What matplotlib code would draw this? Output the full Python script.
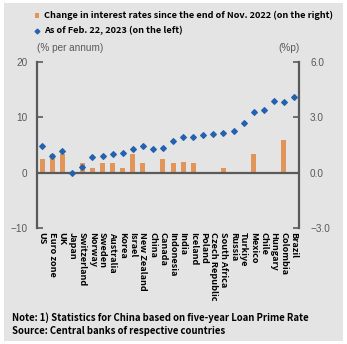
import matplotlib
matplotlib.use("Agg")
import matplotlib.pyplot as plt
from matplotlib.patches import Rectangle
from matplotlib.lines import Line2D

countries = ["US", "Euro zone", "UK", "Japan", "Switzerland", "Norway", "Sweden",
             "Australia", "Korea", "Israel", "New Zealand", "China", "Canada",
             "Indonesia", "India", "Iceland", "Poland", "Czech Republic",
             "South Africa", "Russia", "Turkiye", "Mexico", "Chile", "Hungary",
             "Colombia", "Brazil"]
# Policy rate as of Feb. 22, 2023 (%, left axis)
policy_rate = [4.75, 3.0, 4.0, -0.1, 1.0, 2.75, 3.0, 3.35, 3.5, 4.25, 4.75, 4.3,
               4.5, 5.75, 6.5, 6.5, 6.75, 7.0, 7.25, 7.5, 9.0, 11.0, 11.25, 13.0,
               12.75, 13.75]
# Change since end of Nov. 2022 (%p, right axis)
rate_change = [0.75, 1.0, 1.0, 0.0, 0.5, 0.25, 0.5, 0.5, 0.25, 1.0, 0.5, 0.0,
               0.75, 0.5, 0.6, 0.5, 0.0, 0.0, 0.25, 0.0, 0.0, 1.0, 0.0, 0.0,
               1.75, 0.0]
left_ticks = [-10, 0, 10, 20]
right_ticks = [-3.0, 0.0, 3.0, 6.0]

BG = "#e4e4e4"
BAR = "#e0955a"
DOT = "#2462b0"
AXC = "#5a5a5a"
TXT = "#595959"
BOLD_FONT = ["Noto Sans CJK KR", "DejaVu Sans"]
REG_FONT = ["Liberation Sans", "DejaVu Sans"]
FS_BOLD = 6.6
FS_NOTE = 6.9
FS_REG = 7.2

W, H = 347, 344
fig = plt.figure(figsize=(W / 100, H / 100), dpi=100)
fig.patch.set_facecolor("white")
fig.patches.append(Rectangle((4 / W, 3 / H), 339 / W, 338 / H,
                             transform=fig.transFigure, facecolor=BG,
                             edgecolor="none", zorder=-10))

ax = fig.add_axes([37 / W, (H - 228) / H, 262 / W, 166 / H])
ax.set_facecolor("none")
ax2 = ax.twinx()

x = list(range(len(countries)))
ax2.bar(x, rate_change, width=0.5, color=BAR, zorder=2)
ax.scatter(x, policy_rate, marker="D", s=8, color=DOT, zorder=4)
ax.set_zorder(ax2.get_zorder() + 1)

ax.set_xlim(-0.5, len(countries) - 0.5)
ax.set_ylim(-10, 20)
ax2.set_ylim(-3.0, 6.0)
ax.axhline(0, color=AXC, lw=1.6, zorder=3)

for a in (ax, ax2):
    for s in ("top", "bottom"):
        a.spines[s].set_visible(False)
ax2.spines["left"].set_visible(False)
ax.spines["right"].set_visible(False)
ax.spines["left"].set_color(AXC)
ax.spines["left"].set_linewidth(1.6)
ax2.spines["right"].set_color(AXC)
ax2.spines["right"].set_linewidth(1.6)

ax.set_yticks(left_ticks)
ax.set_yticklabels(["\u221210", "0", "10", "20"])
ax2.set_yticks(right_ticks)
ax2.set_yticklabels(["\u22123.0", "0.0", "3.0", "6.0"])
ax.tick_params(axis="y", direction="in", length=4, width=1.2, color=AXC,
               labelcolor=TXT, labelsize=FS_REG, pad=7)
ax2.tick_params(axis="y", direction="in", length=4, width=1.2, color=AXC,
                labelcolor=TXT, labelsize=FS_REG, pad=8)
for lbl in ax.get_yticklabels() + ax2.get_yticklabels():
    lbl.set_family(REG_FONT)

ax.set_xticks(x)
ax.set_xticklabels(countries, rotation=270, fontsize=FS_BOLD, fontweight="bold",
                   family=BOLD_FONT, va="top", ha="center")
ax.tick_params(axis="x", length=0, pad=3)
ax2.tick_params(axis="x", length=0)

fig.text(37 / W, 1 - 48 / H, "(% per annum)", fontsize=FS_REG, color=TXT,
         family=REG_FONT, va="center", ha="left")
fig.text(300 / W, 1 - 48 / H, "(%p)", fontsize=FS_REG, color=TXT,
         family=REG_FONT, va="center", ha="right")

# legend
fig.patches.append(Rectangle((35 / W, 1 - 18 / H), 4 / W, 5 / H,
                             transform=fig.transFigure, facecolor=BAR,
                             edgecolor="none"))
fig.lines.append(Line2D([37 / W], [1 - 31 / H], transform=fig.transFigure,
                        marker="D", markersize=2.4, color=DOT, lw=0))
fig.text(44 / W, 1 - 15.5 / H,
         "Change in interest rates since the end of Nov. 2022 (on the right)",
         fontsize=FS_BOLD, fontweight="bold", family=BOLD_FONT, va="center",
         ha="left", color="black")
fig.text(44 / W, 1 - 30.5 / H, "As of Feb. 22, 2023 (on the left)",
         fontsize=FS_BOLD, fontweight="bold", family=BOLD_FONT, va="center",
         ha="left", color="black")

fig.text(12 / W, 1 - 318 / H,
         "Note: 1) Statistics for China based on five-year Loan Prime Rate",
         fontsize=FS_NOTE, fontweight="bold", family=BOLD_FONT, va="center",
         ha="left", color="black")
fig.text(12 / W, 1 - 331 / H, "Source: Central banks of respective countries",
         fontsize=FS_NOTE, fontweight="bold", family=BOLD_FONT, va="center",
         ha="left", color="black")

fig.savefig("out.png", dpi=100, facecolor=fig.get_facecolor())
